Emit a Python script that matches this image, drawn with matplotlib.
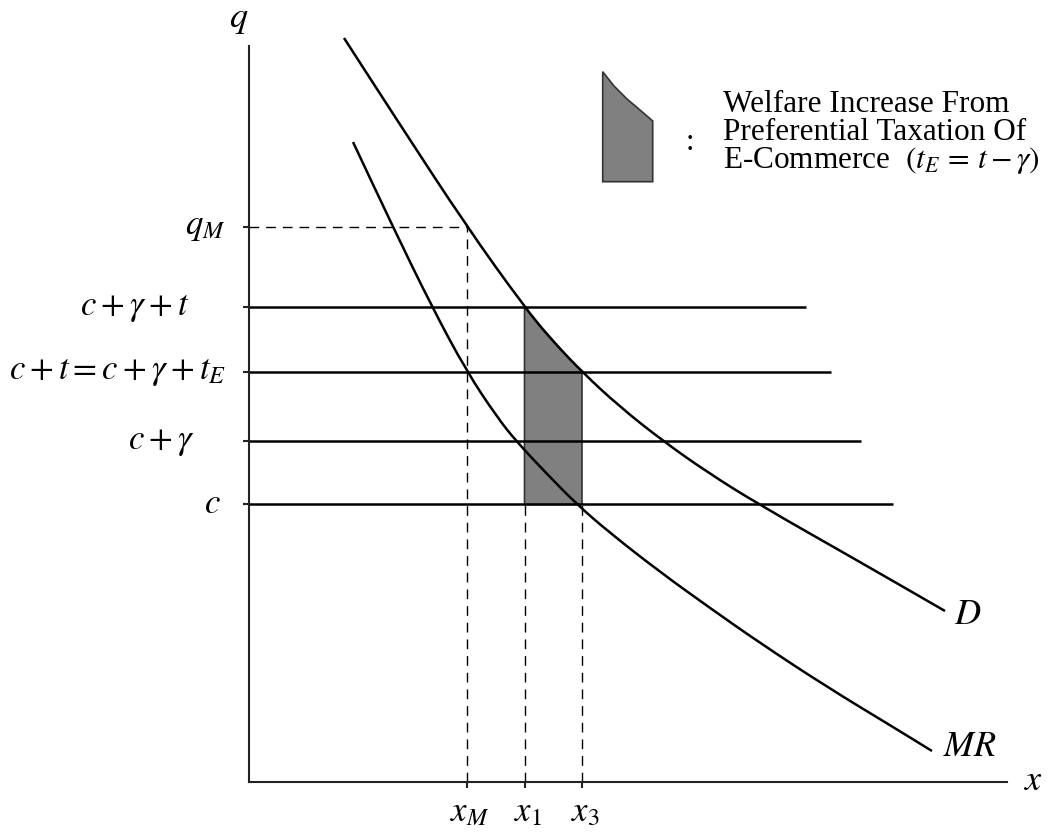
import matplotlib
matplotlib.use("Agg")
import matplotlib.pyplot as plt
import numpy as np
from matplotlib.patches import Polygon, PathPatch
from matplotlib.path import Path

plt.rcParams['font.family'] = ['Liberation Serif', 'DejaVu Serif']
plt.rcParams['mathtext.fontset'] = 'stix'

# ---------------- data ----------------
# Demand curve D
d_x = [9.5, 14.8, 21.8, 27.55, 30.1, 33.3, 37.1, 41.4, 45.8, 50.9, 61.1, 69.6]
d_q = [74.4, 66.2, 55.5, 47.5, 44.4, 41.0, 37.5, 34.1, 31.0, 27.8, 22.0, 17.1]
# Marginal revenue curve MR
mr_x = [10.4, 14.4, 18.3, 21.8, 24.8, 26.7, 29.7, 32.8, 36.1, 41.1, 46.1, 51.1, 57.8, 64.4, 68.3]
mr_q = [64.0, 55.5, 47.5, 41.0, 36.5, 34.1, 30.9, 27.75, 24.9, 21.0, 17.4, 13.9, 9.5, 5.5, 3.1]

# price levels (y tick labels) and their values
level_labels = [r'$q_M$', r'$c+\gamma+t$', r'$c+t=c+\gamma+t_E$', r'$c+\gamma$', r'$c$']
level_values = [55.5, 47.5, 41.0, 34.1, 27.75]
# horizontal price lines: value and right end
hline_values = [47.5, 41.0, 34.1, 27.75]
hline_ends = [55.7, 58.2, 61.2, 64.4]

# quantities (x tick labels)
qty_labels = [r'$x_M$', r'$x_1$', r'$x_3$']
qty_values = [21.8, 27.55, 33.3]

legend_lines = ['Welfare Increase From', 'Preferential Taxation Of',
                r'E-Commerce  $(t_E\,=\,t-\gamma)$']


def smooth_path(xs, ys):
    """Quadratic-Bezier rendering through the read points (midpoint scheme)."""
    pts = np.column_stack([xs, ys])
    verts = [pts[0], (pts[0] + pts[1]) / 2]
    codes = [Path.MOVETO, Path.LINETO]
    for i in range(1, len(pts) - 1):
        verts += [pts[i], (pts[i] + pts[i + 1]) / 2]
        codes += [Path.CURVE3, Path.CURVE3]
    verts.append(pts[-1])
    codes.append(Path.LINETO)
    return Path(verts, codes)


# ---------------- figure ----------------
W, H = 1060, 833
fig = plt.figure(figsize=(W / 100, H / 100), dpi=100)
x0, y0 = 249, 782          # origin in pixels
x_end, y_top = 1007, 46    # axis ends in pixels
ax = fig.add_axes([x0 / W, 1 - y0 / H, (x_end - x0) / W, (y0 - y_top) / H])
ax.set_xlim(0, (x_end - x0) / 10)
ax.set_ylim(0, (y0 - y_top) / 10)
for s in ['top', 'right']:
    ax.spines[s].set_visible(False)
for s in ['left', 'bottom']:
    ax.spines[s].set_linewidth(1.5)
    ax.spines[s].set_color('#222222')
ax.set_yticks(level_values)
ax.set_yticklabels([])
ax.set_xticks(qty_values)
ax.set_xticklabels([])
ax.tick_params(direction='out', length=4, width=1.5, color='#222222')

# shaded welfare region (between x1 and x3, under D, above c)
xa, xb = qty_values[1], qty_values[2]
c_val = level_values[-1]
seg = [(x, q) for x, q in zip(d_x, d_q) if xa - 1e-9 <= x <= xb + 1e-9]
poly = [(xa, c_val)] + seg + [(xb, c_val)]
ax.add_patch(Polygon(poly, closed=True, facecolor='#808080',
                     edgecolor='#333333', linewidth=1.2, zorder=1))

# horizontal price lines
for v, e in zip(hline_values, hline_ends):
    ax.plot([0, e], [v, v], color='black', lw=1.8, zorder=2, solid_capstyle='butt')

# dashed guides
dash = (0, (7, 5))
qm = level_values[0]
ax.plot([0, qty_values[0]], [qm, qm], color='black', lw=1.0, ls=dash, zorder=2)
ax.plot([qty_values[0], qty_values[0]], [0, qm], color='black', lw=1.0, ls=dash, zorder=2)
for xv in qty_values[1:]:
    ax.plot([xv, xv], [0, c_val], color='black', lw=1.0, ls=dash, zorder=2)

# curves
for xs, ys in [(d_x, d_q), (mr_x, mr_q)]:
    ax.add_patch(PathPatch(smooth_path(xs, ys), facecolor='none', edgecolor='black',
                           lw=1.8, clip_on=False, zorder=3))

# y labels
label_right_px = [226, 190, 226, 194, 221]
for lab, v, rp in zip(level_labels, level_values, label_right_px):
    ax.text((rp - x0) / 10, v, lab, ha='right', va='center', fontsize=25, clip_on=False)

# x labels
for lab, v in zip(qty_labels, qty_values):
    ax.text(v + 0.3, -3.1, lab, ha='center', va='center', fontsize=25, clip_on=False)


def px(xp, yp):
    return xp / W, 1 - yp / H


# axis names and curve names
fig.text(*px(239, 20), r'$q$', ha='center', va='center', fontsize=26)
fig.text(*px(1034, 781), r'$x$', ha='center', va='center', fontsize=26)
fig.text(*px(968, 615), r'$D$', ha='center', va='center', fontsize=26)
fig.text(*px(970, 747), r'$MR$', ha='center', va='center', fontsize=26)

# legend glyph
glyph = [(602.7, 71.7), (614, 86), (627, 99), (640, 110), (652.7, 121),
         (652.7, 181.7), (602.7, 181.7)]
fig.patches.append(Polygon([px(a, b) for a, b in glyph], closed=True,
                           transform=fig.transFigure, facecolor='#808080',
                           edgecolor='#333333', linewidth=1.2))
fig.text(*px(690, 142), ':', ha='center', va='center', fontsize=22)
for i, line in enumerate(legend_lines):
    fig.text(*px(723, 105 + 27.5 * i), line, ha='left', va='center', fontsize=22.5)

fig.savefig('out.png', dpi=100)
